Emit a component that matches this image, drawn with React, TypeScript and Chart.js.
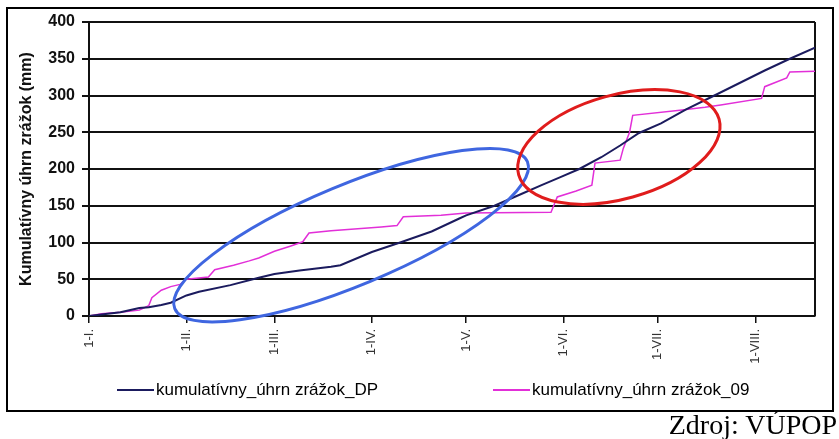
import { useEffect, useRef } from "react";
import { Chart, registerables } from "chart.js";

Chart.register(...registerables);

// Day of year (0 = 1 January) at which each month starts, with its label
const monthStartDays = [0, 31, 59, 90, 120, 151, 181, 212];
const monthLabels = ["1-I.", "1-II.", "1-III.", "1-IV.", "1-V.", "1-VI.", "1-VII.", "1-VIII."];
const lastDay = 231;

// Cumulative precipitation, long-term normal (DP)
const dpDays = [0, 4, 10, 16, 19, 23, 26, 31, 35, 45, 54, 59, 67, 77, 80, 90, 99, 109, 118, 120, 129, 137, 144, 150, 156, 163, 169, 175, 182, 190, 199, 207, 215, 223, 231];
const dpValues = [0, 2, 5, 11, 12, 15, 18, 28, 33, 42, 52, 57, 62, 67, 69, 87, 100, 115, 133, 137, 150, 165, 178, 189, 200, 216, 232, 249, 262, 281, 300, 317, 334, 350, 365];

// Cumulative precipitation, year 2009
const y09Days = [0, 4, 10, 16, 19, 20, 23, 26, 29, 31, 38, 40, 46, 51, 54, 59, 64, 68, 70, 77, 93, 98, 100, 112, 120, 147, 149, 155, 160, 161, 169, 170, 172, 173, 188, 196, 201, 214, 215, 222, 223, 231];
const y09Values = [0, 3, 5, 8, 14, 25, 35, 40, 43, 50, 53, 63, 69, 75, 79, 88, 95, 101, 113, 116, 121, 123, 135, 137, 140, 141, 162, 170, 178, 208, 212, 228, 250, 273, 280, 284, 287, 296, 312, 324, 332, 333];

const seriesNames = ["kumulatívny_úhrn zrážok_DP", "kumulatívny_úhrn zrážok_09"];
const seriesColors = ["#1b1b5e", "#e22fd8"];
const yTitle = "Kumulatívny úhrn zrážok (mm)";
const sourceText = "Zdroj: VÚPOP";

// Highlighted periods: centre (day, mm), radii in px, tilt in degrees
const highlightDays = [83.4, 168.6];
const highlightValues = [110, 230];
const highlightRadiusX = [191, 104];
const highlightRadiusY = [50, 52];
const highlightTilt = [22.6, 15.5];
const highlightColors = ["#3f66e0", "#e01c1c"];

const SANS = '"Liberation Sans", Arial, sans-serif';

const decorations = {
  id: "decorations",
  beforeDatasetsDraw(chart: any) {
    const { ctx, chartArea } = chart;
    ctx.save();
    ctx.strokeStyle = "#111";
    ctx.lineWidth = 2;
    ctx.beginPath();
    ctx.moveTo(chartArea.right, chartArea.top);
    ctx.lineTo(chartArea.right, chartArea.bottom);
    ctx.stroke();
    ctx.restore();
  },
  afterDatasetsDraw(chart: any) {
    const { ctx } = chart;
    const xs = chart.scales.x;
    const ys = chart.scales.y;
    highlightDays.forEach((day, i) => {
      ctx.save();
      ctx.strokeStyle = highlightColors[i];
      ctx.lineWidth = 3;
      ctx.beginPath();
      ctx.ellipse(
        xs.getPixelForValue(day),
        ys.getPixelForValue(highlightValues[i]),
        highlightRadiusX[i],
        highlightRadiusY[i],
        (-highlightTilt[i] * Math.PI) / 180,
        0,
        Math.PI * 2
      );
      ctx.stroke();
      ctx.restore();
    });
  },
  afterDraw(chart: any) {
    // legend row under the axis
    const { ctx } = chart;
    const rowY = 381;
    const itemsX = [109, 485];
    ctx.save();
    ctx.font = `17px ${SANS}`;
    ctx.textBaseline = "middle";
    ctx.fillStyle = "#000";
    seriesNames.forEach((name, i) => {
      const x0 = itemsX[i];
      ctx.strokeStyle = seriesColors[i];
      ctx.lineWidth = 2;
      ctx.beginPath();
      ctx.moveTo(x0, rowY);
      ctx.lineTo(x0 + 37, rowY);
      ctx.stroke();
      ctx.fillText(name, x0 + 39, rowY);
    });
    ctx.restore();
  },
};

export default function App() {
  const canvasRef = useRef<HTMLCanvasElement | null>(null);

  useEffect(() => {
    if (!canvasRef.current) return;
    const chart = new Chart(canvasRef.current, {
      type: "line",
      data: {
        datasets: [
          {
            label: seriesNames[0],
            data: dpDays.map((d, i) => ({ x: d, y: dpValues[i] })),
            borderColor: seriesColors[0],
            borderWidth: 2,
            pointRadius: 0,
            tension: 0,
          },
          {
            label: seriesNames[1],
            data: y09Days.map((d, i) => ({ x: d, y: y09Values[i] })),
            borderColor: seriesColors[1],
            borderWidth: 1.5,
            pointRadius: 0,
            tension: 0,
          },
        ],
      },
      options: {
        animation: false,
        responsive: false,
        maintainAspectRatio: false,
        layout: { padding: { left: 0, top: 13, right: 17, bottom: 44 } },
        plugins: { legend: { display: false }, tooltip: { enabled: false } },
        scales: {
          x: {
            type: "linear",
            min: 0,
            max: lastDay,
            afterBuildTicks: (scale: any) => {
              scale.ticks = monthStartDays.map((v) => ({ value: v }));
            },
            afterFit: (scale: any) => {
              scale.height = 50;
              scale.paddingLeft = 0;
              scale.paddingRight = 0;
            },
            ticks: {
              autoSkip: false,
              minRotation: 90,
              maxRotation: 90,
              padding: 6,
              color: "#333",
              font: { family: SANS, size: 13 },
              callback: (_v: any, i: number) => monthLabels[i],
            },
            grid: {
              drawOnChartArea: false,
              drawTicks: true,
              tickLength: 7,
              color: "#111",
              lineWidth: 1.5,
            },
            border: { display: true, color: "#111", width: 2 },
          },
          y: {
            min: 0,
            max: 400,
            afterFit: (scale: any) => {
              scale.width = 81;
              scale.paddingTop = 0;
              scale.paddingBottom = 0;
            },
            ticks: {
              stepSize: 50,
              padding: 7,
              color: "#111",
              font: { family: SANS, size: 16, weight: "bold" },
            },
            grid: { color: "#111", lineWidth: 2, tickLength: 7 },
            border: { display: true, color: "#111", width: 2 },
            title: {
              display: true,
              text: yTitle,
              color: "#111",
              padding: { top: 9, bottom: 0 },
              font: { family: SANS, size: 16, weight: "bold" },
            },
          },
        },
      },
      plugins: [decorations],
    });
    return () => chart.destroy();
  }, []);

  return (
    <div style={{ position: "absolute", left: 0, top: 0, width: 839, height: 439, background: "#fff" }}>
      <div
        style={{
          position: "absolute",
          left: 6,
          top: 7,
          width: 828,
          height: 405,
          border: "2px solid #000",
          boxSizing: "border-box",
        }}
      >
        <canvas ref={canvasRef} width={824} height={401} style={{ display: "block" }} />
      </div>
      <div
        style={{
          position: "absolute",
          right: 2,
          top: 411,
          fontFamily: '"Liberation Serif", "Times New Roman", serif',
          fontSize: 28,
          lineHeight: "28px",
          color: "#000",
          whiteSpace: "nowrap",
        }}
      >
        {sourceText}
      </div>
    </div>
  );
}
